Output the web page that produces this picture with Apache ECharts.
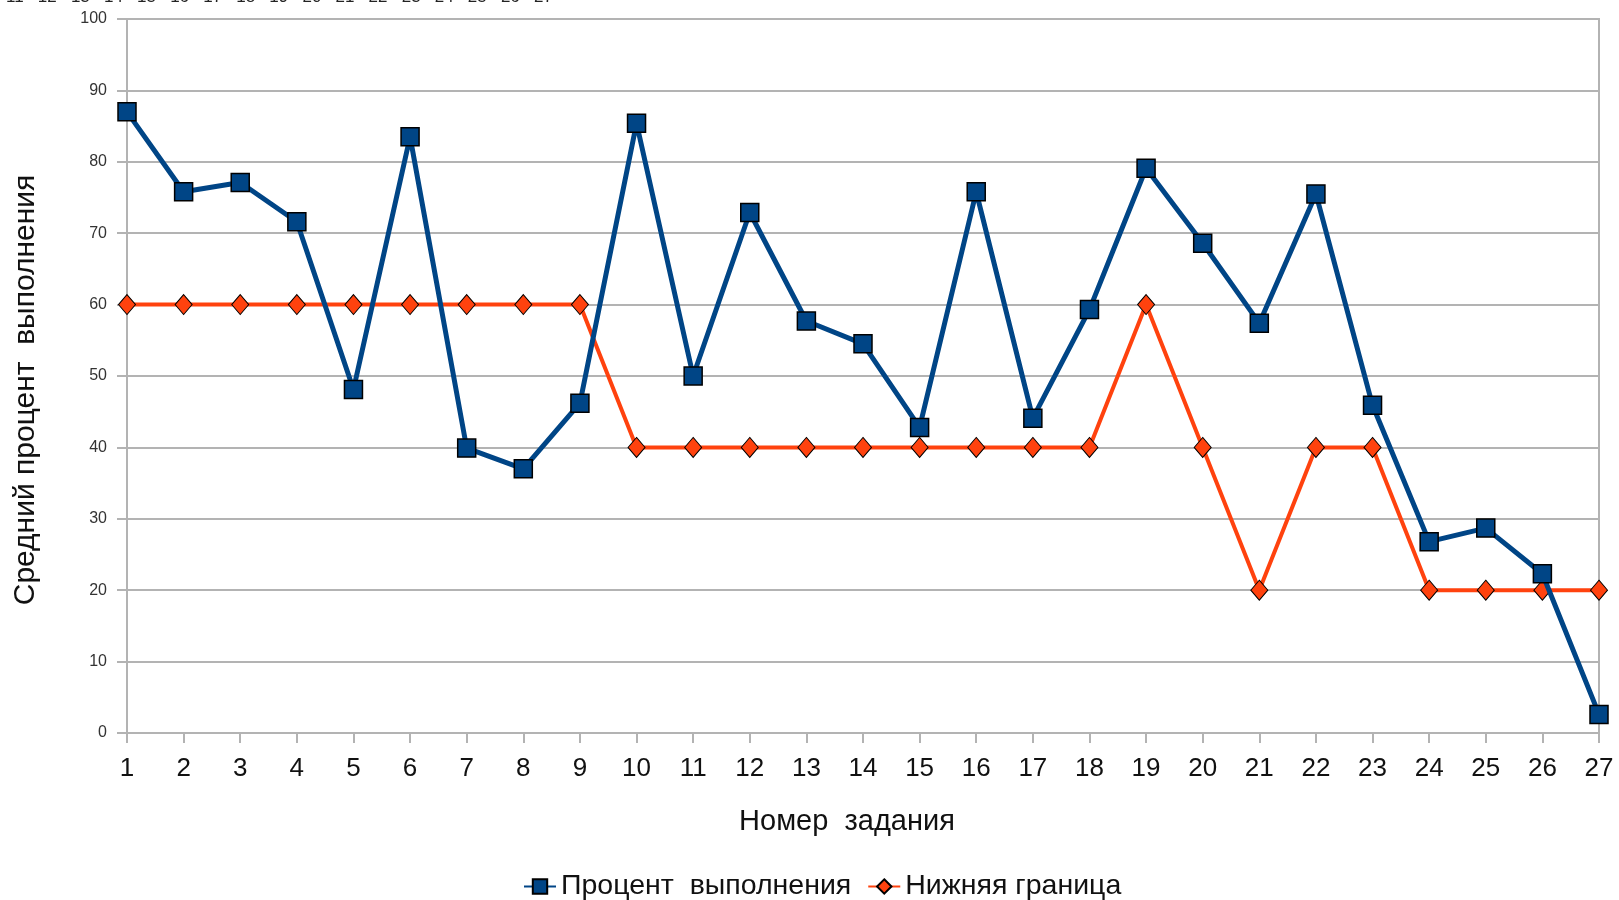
<!DOCTYPE html>
<html>
<head>
<meta charset="utf-8">
<script src="https://cdn.jsdelivr.net/npm/echarts@6/dist/echarts.min.js"></script>
<style>
html,body{margin:0;padding:0;background:#fff;}
#chart{width:1619px;height:900px;}
</style>
</head>
<body>
<div id="chart"></div>
<script>
const categories = ['1','2','3','4','5','6','7','8','9','10','11','12','13','14','15','16','17','18','19','20','21','22','23','24','25','26','27'];
const percentDone = [87.0, 75.8, 77.1, 71.6, 48.1, 83.5, 39.9, 37.0, 46.2, 85.4, 50.0, 72.9, 57.7, 54.5, 42.8, 75.8, 44.1, 59.3, 79.1, 68.6, 57.4, 75.5, 45.9, 26.8, 28.7, 22.3, 2.6];
const lowerBound = [60, 60, 60, 60, 60, 60, 60, 60, 60, 40, 40, 40, 40, 40, 40, 40, 40, 40, 60, 40, 20, 40, 40, 20, 20, 20, 20];
const seriesNames = ['Процент  выполнения', 'Нижняя граница'];
const xAxisName = 'Номер  задания';
const yAxisName = 'Средний процент  выполнения';
const cutOffHeader = '11   12   13   14   15   16   17   18   19   20   21   22   23   24   25   26   27';

const FONT = '"Liberation Sans", Arial, sans-serif';
const GRIDC = '#b3b3b3';

const chart = echarts.init(document.getElementById('chart'), null, {renderer: 'canvas'});
chart.setOption({
  animation: false,
  backgroundColor: '#ffffff',
  textStyle: {fontFamily: FONT},
  graphic: [{
    type: 'text', left: 6, top: -11,
    style: {text: cutOffHeader, font: '17px ' + FONT, fill: '#222'}
  }],
  legend: {
    left: 518, top: 867,
    itemWidth: 32, itemHeight: 18, itemGap: 16,
    textStyle: {fontSize: 28.5, color: '#111', fontFamily: FONT},
    data: seriesNames
  },
  grid: {left: 127, right: 20, top: 19, bottom: 167, show: true, borderColor: GRIDC, borderWidth: 2},
  xAxis: {
    type: 'category', data: categories, boundaryGap: false,
    name: xAxisName, nameLocation: 'middle', nameGap: 74,
    nameTextStyle: {fontSize: 29, color: '#111', padding: [0, 32, 0, 0]},
    axisLine: {lineStyle: {color: GRIDC, width: 2}},
    axisTick: {show: true, length: 10, lineStyle: {color: GRIDC, width: 2}},
    axisLabel: {fontSize: 26, color: '#111', margin: 23},
    splitLine: {show: false}
  },
  yAxis: {
    type: 'value', min: 0, max: 100, interval: 10,
    name: yAxisName, nameLocation: 'middle', nameGap: 86,
    nameTextStyle: {fontSize: 30, color: '#111', padding: [0, 28, 0, 0]},
    axisLine: {show: true, lineStyle: {color: GRIDC, width: 2}},
    axisTick: {show: true, length: 10, lineStyle: {color: GRIDC, width: 2}},
    axisLabel: {fontSize: 16, color: '#333', margin: 20},
    splitLine: {lineStyle: {color: GRIDC, width: 2}}
  },
  series: [{
    name: seriesNames[0], type: 'line', data: percentDone, z: 3,
    symbol: 'rect', symbolSize: 18,
    lineStyle: {color: '#004586', width: 5},
    itemStyle: {color: '#004586', borderColor: '#000', borderWidth: 1.5}
  }, {
    name: seriesNames[1], type: 'line', data: lowerBound, z: 2,
    symbol: 'diamond', symbolSize: [17, 20],
    lineStyle: {color: '#ff420e', width: 4},
    itemStyle: {color: '#ff420e', borderColor: '#000', borderWidth: 1}
  }]
});
</script>
</body>
</html>
